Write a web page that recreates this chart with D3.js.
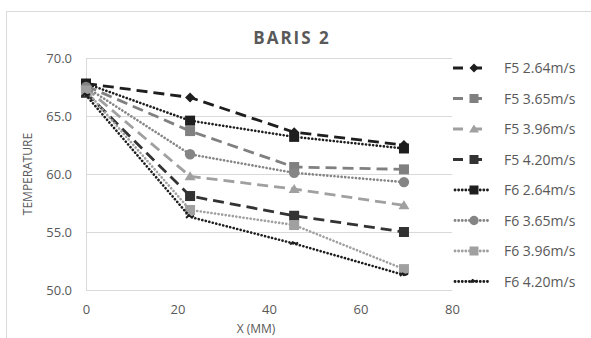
<!DOCTYPE html>
<html><head><meta charset="utf-8">
<script src="https://cdn.jsdelivr.net/npm/d3@7/dist/d3.min.js"></script>
<style>body{margin:0;background:#fff}svg{display:block;font-family:"Open Sans",sans-serif}</style>
</head><body><svg id="c" width="591" height="338"></svg>
<script>
const xValues = [0, 22.75, 45.5, 69.5];
const seriesNames = ["F5 2.64m/s","F5 3.65m/s","F5 3.96m/s","F5 4.20m/s","F6 2.64m/s","F6 3.65m/s","F6 3.96m/s","F6 4.20m/s"];
const f5_264 = [67.8, 66.6, 63.6, 62.5];
const f5_365 = [67.6, 63.7, 60.6, 60.4];
const f5_396 = [67.4, 59.8, 58.7, 57.3];
const f5_420 = [67.0, 58.1, 56.4, 55.0];
const f6_264 = [67.8, 64.6, 63.2, 62.2];
const f6_365 = [67.5, 61.7, 60.1, 59.3];
const f6_396 = [67.2, 56.9, 55.6, 51.8];
const f6_420 = [66.8, 56.3, 54.0, 51.3];
const yTicks = [50, 55, 60, 65, 70];
const xTicks = [0, 20, 40, 60, 80];

const values = [f5_264, f5_365, f5_396, f5_420, f6_264, f6_365, f6_396, f6_420];
const styles = [
  {color:"#1e1e1e", dash:"11,6", marker:"diamond"},
  {color:"#808080", dash:"11,6", marker:"square"},
  {color:"#a0a0a0", dash:"11,6", marker:"triangle"},
  {color:"#333333", dash:"11,6", marker:"square"},
  {color:"#1e1e1e", dash:"0.1,3.5", marker:"square"},
  {color:"#858585", dash:"0.1,3.5", marker:"circle"},
  {color:"#a0a0a0", dash:"0.1,3.5", marker:"square"},
  {color:"#1e1e1e", dash:"0.1,3.5", marker:"dash"}
];

const svg = d3.select("#c");
const x = d3.scaleLinear().domain([0,80]).range([86,452]);
const y = d3.scaleLinear().domain([50,70]).range([290,58]);

// chart border
svg.append("path").attr("d","M6.5,338 V11.5 H591").attr("fill","none").attr("stroke","#d9d9d9").attr("stroke-width",1);

// grid
svg.append("g").selectAll("line").data(yTicks).join("line")
  .attr("x1",x(0)).attr("x2",x(80)).attr("y1",d=>Math.round(y(d))+0.5).attr("y2",d=>Math.round(y(d))+0.5)
  .attr("stroke","#d9d9d9").attr("stroke-width",1);

// axes
const yAxis = svg.append("g").attr("transform",`translate(${x(0)},0)`)
  .call(d3.axisLeft(y).tickValues(yTicks).tickFormat(d3.format(".1f")).tickSize(0).tickPadding(14));
const xAxis = svg.append("g").attr("transform",`translate(0,${y(50)})`)
  .call(d3.axisBottom(x).tickValues(xTicks).tickFormat(d3.format("d")).tickSize(0).tickPadding(15));
svg.selectAll(".domain").remove();
svg.selectAll(".tick text").attr("fill","#595959").style("font-size","13px").style("font-family","Open Sans");
// left axis line
svg.append("line").attr("x1",x(0)+0.5).attr("x2",x(0)+0.5).attr("y1",y(70)).attr("y2",y(50)).attr("stroke","#d9d9d9");

// titles
svg.append("text").attr("x",292).attr("y",44).attr("text-anchor","middle").attr("fill","#595959")
  .style("font-size","17px").style("font-weight","bold").style("letter-spacing","2px").text("BARIS 2");
svg.append("text").attr("transform","translate(32,174) rotate(-90)").attr("text-anchor","middle").attr("fill","#595959")
  .style("font-size","12px").text("TEMPERATURE");
svg.append("text").attr("x",256).attr("y",333).attr("text-anchor","middle").attr("fill","#595959")
  .style("font-size","12px").text("X (MM)");

function drawMarker(g, type, color, cx, cy, s) {
  s = s || 1;
  if (type==="diamond") g.append("path").attr("d",`M${cx},${cy-5*s}L${cx+5*s},${cy}L${cx},${cy+5*s}L${cx-5*s},${cy}Z`).attr("fill",color);
  else if (type==="square") g.append("rect").attr("x",cx-5*s).attr("y",cy-5*s).attr("width",10*s).attr("height",10*s).attr("fill",color);
  else if (type==="triangle") g.append("path").attr("d",`M${cx},${cy-5*s}L${cx+5.5*s},${cy+4*s}L${cx-5.5*s},${cy+4*s}Z`).attr("fill",color);
  else if (type==="circle") g.append("circle").attr("cx",cx).attr("cy",cy).attr("r",5.2*s).attr("fill",color);
  else if (type==="dash") g.append("path").attr("d",`M${cx-4*s},${cy+1}L${cx-1.5*s},${cy-1.5}L${cx+1.5*s},${cy}L${cx+4*s},${cy-1}`).attr("stroke",color).attr("stroke-width",2).attr("fill","none");
}

const line = d3.line().x((d,i)=>x(xValues[i])).y(d=>y(d));
const plot = svg.append("g");
values.forEach((vals,k)=>{
  const st = styles[k];
  const g = plot.append("g");
  const isDot = st.dash.startsWith("0.1");
  g.append("path").datum(vals).attr("d",line).attr("fill","none").attr("stroke",st.color)
    .attr("stroke-width",isDot?2.6:2.8).attr("stroke-dasharray",st.dash).attr("stroke-linecap",isDot?"round":"butt");
  vals.forEach((v,i)=>drawMarker(g, st.marker, st.color, x(xValues[i]), y(v)));
});

// legend
const lg = svg.append("g");
seriesNames.forEach((name,k)=>{
  const st = styles[k];
  const ly = 68 + k*30.5;
  const row = lg.append("g");
  const isDot = st.dash.startsWith("0.1");
  row.append("line").attr("x1",isDot?455:453).attr("x2",490).attr("y1",ly).attr("y2",ly).attr("stroke",st.color)
    .attr("stroke-width",2.8).attr("stroke-dasharray",isDot?"0.1,3.5":"10,9").attr("stroke-linecap",isDot?"round":"butt");
  drawMarker(row, st.marker, st.color, 474, ly, 0.9);
  row.append("text").attr("x",504).attr("y",ly+5).attr("fill","#595959").style("font-size","14px").text(name);
});
</script></body></html>
